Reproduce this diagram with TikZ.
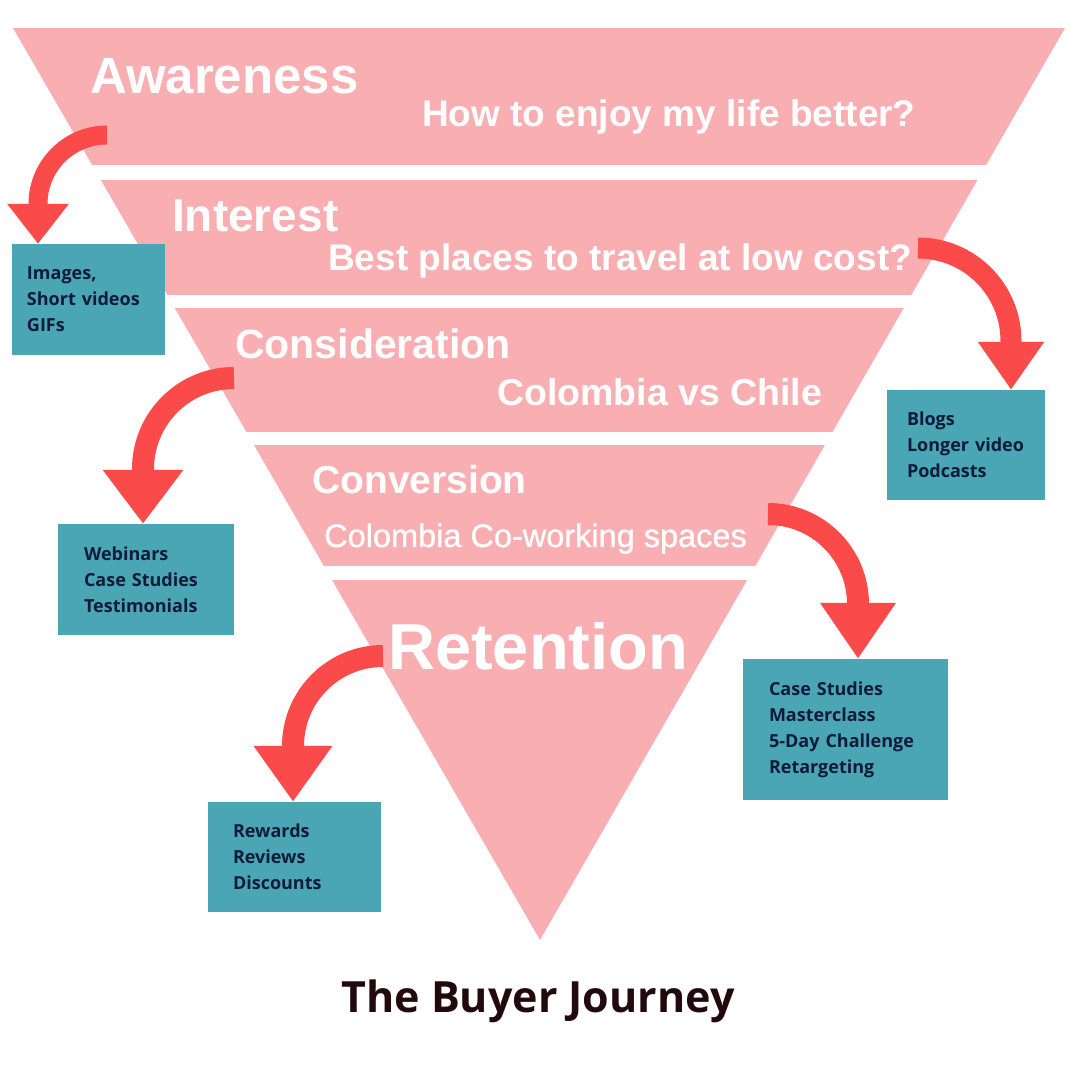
\documentclass[tikz,border=0pt]{standalone}
\usepackage{fontspec}
\usetikzlibrary{arrows.meta}
\newfontfamily\bandfont{Liberation Sans}
\newfontfamily\semifont[FakeBold=0.9]{Liberation Sans}
\newfontfamily\boxfont{Open Sans}
\definecolor{funnelpink}{HTML}{F9AEB2}
\definecolor{boxteal}{HTML}{4AA5B5}
\definecolor{arrowred}{HTML}{FA4A4A}
\definecolor{boxtext}{HTML}{0F1B3A}
\definecolor{titletext}{HTML}{22080F}

\begin{document}
\begin{tikzpicture}[x=1pt,y=1pt,
  stage/.style={anchor=base west,inner sep=0pt,text=white,font=\bandfont\bfseries\fontsize{#1}{#1}\selectfont},
  question/.style={anchor=base west,inner sep=0pt,text=white,font=\bandfont\bfseries\fontsize{#1}{#1}\selectfont},
  mediabox/.style={fill=boxteal,text=boxtext,align=left,inner ysep=0pt,font=\boxfont\bfseries\fontsize{18}{26}\selectfont},
  redarrow/.style 2 args={draw=arrowred,line width=22pt,-{Triangle[width=#1,length=#2]}}]
\useasboundingbox (0,0) rectangle (1080,1080);
% funnel bands
\begin{scope}
 \clip (13,1052) -- (1065,1052) -- (540,140) -- cycle;
 \foreach \ya/\yb in {1052/915,900/785,772/648,635/514,500/140}
  \fill[funnelpink] (0,\ya) rectangle (1080,\yb);
\end{scope}
% stage names and questions
\node[stage=51] (aware) at (90,986) {Awareness};
\node[question=37] (awareq) at (422,953) {How to enjoy my life better?};
\node[stage=46] (interest) at (172,848) {Interest};
\node[question=37] (interestq) at (328,809) {Best places to travel at low cost?};
\node[stage=41] (consid) at (235,721) {Consideration};
\node[question=37.5] (considq) at (497,674) {Colombia vs Chile};
\node[stage=39] (convers) at (312,586) {Conversion};
\node[question=33,font=\semifont\fontsize{32.5}{33}\selectfont] (conversq) at (324,533) {Colombia Co-working spaces};
\node[stage=65] (retent) at (388,410) {Retention};
% content boxes
\node[mediabox,minimum width=153pt,minimum height=111pt,text width=123pt,inner xsep=15pt] (imgbox) at (88.5,780.5) {Images,\\Short~videos\\GIFs};
\node[mediabox,minimum width=158pt,minimum height=110pt,text width=118pt,inner xsep=20pt] (blogbox) at (966,635) {Blogs\\Longer~video\\Podcasts};
\node[mediabox,minimum width=176pt,minimum height=111pt,text width=124pt,inner xsep=26pt] (webbox) at (146,500.5) {Webinars\\Case~Studies\\Testimonials};
\node[mediabox,minimum width=205pt,minimum height=141pt,text width=153pt,inner xsep=26pt] (casebox) at (845.5,350.5) {Case~Studies\\Masterclass\\5-Day~Challenge\\Retargeting};
\node[mediabox,minimum width=173pt,minimum height=110pt,text width=123pt,inner xsep=25pt] (rewbox) at (294.5,223) {Rewards\\Reviews\\Discounts};
% arrows
\coordinate (awaretail) at (107,945);  \coordinate (awarebend) at (38,876);
\coordinate (interesttail) at (918,832); \coordinate (interestbend) at (1011,739);
\coordinate (considtail) at (234,702); \coordinate (considbend) at (143,611);
\coordinate (converstail) at (768,566); \coordinate (conversbend) at (858,476);
\coordinate (retenttail) at (383,424); \coordinate (retentbend) at (293,334);
\draw[redarrow={59pt}{40pt},line width=19pt] (awaretail) arc[start angle=90,end angle=180,radius=69] -- (awarebend |- imgbox.north);
\draw[redarrow={63pt}{48pt},line width=21pt] (interesttail) arc[start angle=90,end angle=0,radius=93] -- (interestbend |- blogbox.north);
\draw[redarrow={77pt}{54pt}] (considtail) arc[start angle=90,end angle=180,radius=91] -- (considbend |- webbox.north);
\draw[redarrow={72pt}{56pt}] (converstail) arc[start angle=90,end angle=0,radius=90] -- (conversbend |- casebox.north);
\draw[redarrow={75pt}{56pt}] (retenttail) arc[start angle=90,end angle=180,radius=90] -- (retentbend |- rewbox.north);
% title
\node[anchor=base,inner sep=0pt,text=titletext,font=\boxfont\bfseries\fontsize{43}{43}\selectfont] (title) at (538,67) {The Buyer Journey};
\end{tikzpicture}
\end{document}
